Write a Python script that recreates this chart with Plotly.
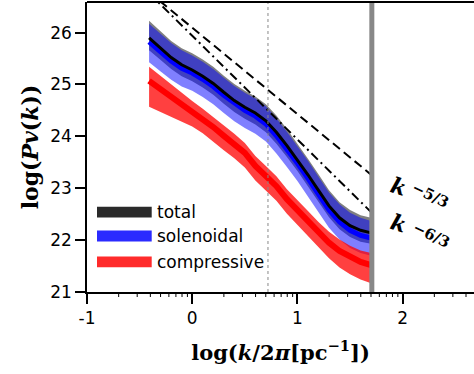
import numpy as np
import plotly.graph_objects as go

# ---------------- data ----------------
logk = [-0.41, -0.3, -0.2, -0.1, 0.0, 0.1, 0.2, 0.3, 0.4, 0.5, 0.6, 0.7,
        0.8, 0.9, 1.0, 1.1, 1.2, 1.3, 1.4, 1.5, 1.6, 1.7]

total = [25.90, 25.70, 25.52, 25.38, 25.28, 25.16, 25.02, 24.85, 24.69, 24.56, 24.45, 24.30,
         24.08, 23.82, 23.55, 23.26, 22.96, 22.66, 22.43, 22.28, 22.19, 22.14]
total_hi = [26.23, 26.02, 25.84, 25.70, 25.60, 25.48, 25.34, 25.17, 25.01, 24.88, 24.77, 24.62,
            24.40, 24.14, 23.86, 23.57, 23.27, 22.96, 22.73, 22.58, 22.48, 22.43]
total_lo = [25.66, 25.47, 25.30, 25.16, 25.06, 24.94, 24.80, 24.63, 24.47, 24.34, 24.23, 24.08,
            23.86, 23.60, 23.33, 23.04, 22.74, 22.44, 22.21, 22.06, 21.97, 21.93]

solenoidal = [25.82, 25.62, 25.45, 25.31, 25.22, 25.10, 24.96, 24.79, 24.63, 24.50, 24.39, 24.24,
              24.01, 23.75, 23.48, 23.19, 22.88, 22.58, 22.35, 22.19, 22.09, 22.04]
solenoidal_hi = [26.17, 25.97, 25.80, 25.66, 25.56, 25.44, 25.30, 25.13, 24.97, 24.84, 24.73, 24.58,
                 24.35, 24.09, 23.82, 23.53, 23.22, 22.92, 22.69, 22.53, 22.43, 22.37]
solenoidal_lo = [25.43, 25.25, 25.09, 24.96, 24.88, 24.76, 24.62, 24.45, 24.29, 24.16, 24.05, 23.90,
                 23.67, 23.41, 23.14, 22.85, 22.54, 22.24, 22.01, 21.85, 21.75, 21.70]

compressive = [25.07, 24.91, 24.77, 24.63, 24.48, 24.34, 24.18, 24.01, 23.86, 23.68, 23.43, 23.24,
               23.04, 22.79, 22.57, 22.37, 22.15, 21.95, 21.79, 21.67, 21.58, 21.52]
compressive_hi = [25.34, 25.16, 25.00, 24.85, 24.68, 24.53, 24.37, 24.20, 24.05, 23.87, 23.62, 23.43,
                  23.23, 22.98, 22.76, 22.56, 22.35, 22.16, 22.01, 21.89, 21.80, 21.75]
compressive_lo = [24.57, 24.47, 24.37, 24.28, 24.19, 24.06, 23.90, 23.73, 23.58, 23.40, 23.15, 22.96,
                  22.76, 22.51, 22.29, 22.08, 21.86, 21.65, 21.47, 21.34, 21.24, 21.17]

# reference power laws: log P = a + slope * log k
ref_x = [-0.41, 1.70]
ref53_anchor = (1.707, 23.25)   # k^-5/3 passes through this point
ref63_anchor = (1.70, 22.54)    # k^-6/3 passes through this point
ref_slopes = [-5.0 / 3.0, -6.0 / 3.0]
ref_labels = ["−5/3", "−6/3"]

dotted_x = 0.72
gray_x = 1.707

X_RANGE = [-1, 2.678]
Y_RANGE = [21, 26.59]
x_ticks = [-1, 0, 1, 2]
y_ticks = [21, 22, 23, 24, 25, 26]
minor_x = [d + np.log10(n) for d in [-1, 0, 1, 2] for n in range(2, 10)]
minor_x = [float(v) for v in minor_x if v < X_RANGE[1] - 0.01]

legend_names = ["total", "solenoidal", "compressive"]
legend_colors = ["#2a2a2a", "#2b2bff", "#ff2b2b"]

# ---------------- figure ----------------
fig = go.Figure()


def band(x, lo, hi, color):
    fig.add_trace(go.Scatter(x=x + x[::-1], y=hi + lo[::-1], fill="toself",
                             fillcolor=color, line=dict(width=0), mode="lines",
                             hoverinfo="skip", showlegend=False))


band(logk, total_lo, total_hi, "rgb(128,128,128)")
band(logk, solenoidal_lo, solenoidal_hi, "rgba(0,0,255,0.5)")
band(logk, compressive_lo, compressive_hi, "rgba(255,0,0,0.75)")

fig.add_trace(go.Scatter(x=logk, y=compressive, mode="lines",
                         line=dict(color="#ff0000", width=6), showlegend=False))
fig.add_trace(go.Scatter(x=logk, y=solenoidal, mode="lines",
                         line=dict(color="#0000ff", width=5), showlegend=False))
fig.add_trace(go.Scatter(x=logk, y=total, mode="lines",
                         line=dict(color="#000000", width=3), showlegend=False))

for (ax, ay), s, dash in zip([ref53_anchor, ref63_anchor], ref_slopes,
                             ["9px,5px", "9px,4px,2px,4px"]):
    ys = [ay + s * (xx - ax) for xx in ref_x]
    fig.add_trace(go.Scatter(x=ref_x, y=ys, mode="lines",
                             line=dict(color="black", width=2, dash=dash), showlegend=False))

# vertical markers
fig.add_shape(type="line", xref="x", yref="paper", x0=dotted_x, x1=dotted_x, y0=0, y1=1,
              line=dict(color="#888888", width=1, dash="dot"))
fig.add_shape(type="line", xref="x", yref="paper", x0=gray_x, x1=gray_x, y0=0, y1=1,
              line=dict(color="#888888", width=5))

# minor (logarithmic) ticks on the x axis, pointing outward
PW = 474 - 87
PH = 374 - 2 - 82
for v in minor_x:
    fig.add_shape(type="line", xref="x", yref="paper", x0=v, x1=v, y0=0, y1=-5.0 / PH,
                  line=dict(color="black", width=1))

# slope labels (k and exponent, tilted)
for lab, (kx, ky), (sx, sy) in zip(ref_labels,
                                   [(1.958, 23.04), (1.958, 22.33)],
                                   [(2.262, 22.87), (2.272, 22.10)]):
    fig.add_annotation(x=kx, y=ky, xref="x", yref="y", showarrow=False, textangle=18,
                       text="<b><i>k</i></b>",
                       font=dict(family="DejaVu Serif", size=22, color="black"))
    fig.add_annotation(x=sx, y=sy, xref="x", yref="y", showarrow=False, textangle=26,
                       text="<b>" + lab + "</b>",
                       font=dict(family="DejaVu Serif", size=15, color="black"))

# custom legend
leg_y = [22.54, 22.08, 21.58]
for name, col, yy in zip(legend_names, legend_colors, leg_y):
    fig.add_shape(type="rect", xref="x", yref="y", x0=-0.905, x1=-0.385,
                  y0=yy - 0.105, y1=yy + 0.105, fillcolor=col, line=dict(width=0))
    fig.add_annotation(x=-0.35, y=yy, xref="x", yref="y", showarrow=False,
                       xanchor="left", yanchor="middle", text=name,
                       font=dict(family="DejaVu Sans", size=17, color="black"))

# top frame line
fig.add_shape(type="line", xref="paper", yref="paper", x0=0, x1=1.01, y0=1, y1=1,
              line=dict(color="black", width=2))

# the axes continue past the page edge: keep the right edge of the frame open
fig.add_annotation(x=1, y=0.5, xref="paper", yref="paper", xanchor="right", yanchor="middle",
                   showarrow=False, text=" ", width=8, height=PH - 6,
                   bgcolor="white", borderwidth=0, borderpad=0,
                   font=dict(size=1, color="white"))

fig.update_layout(
    width=474, height=374,
    margin=dict(l=87, r=0, t=2, b=82),
    plot_bgcolor="white", paper_bgcolor="white",
    showlegend=False,
    xaxis=dict(range=X_RANGE, tickvals=x_ticks, ticktext=["-1", "0", "1", "2"],
               ticks="outside", ticklen=10, tickwidth=1.5, tickcolor="black",
               showline=True, linecolor="black", linewidth=1.5, mirror=False,
               showgrid=False, zeroline=False,
               tickfont=dict(family="DejaVu Sans", size=17, color="black"),
               title=dict(text="<b>log(<i>k</i>/2<i>π</i>[pc<sup>−1</sup>])</b>",
                          font=dict(family="DejaVu Serif", size=21, color="black"),
                          standoff=18)),
    yaxis=dict(range=Y_RANGE, tickvals=y_ticks,
               ticks="outside", ticklen=10, tickwidth=1.5, tickcolor="black",
               showline=True, linecolor="black", linewidth=1.5, mirror=False,
               showgrid=False, zeroline=False,
               tickfont=dict(family="DejaVu Sans", size=17, color="black"),
               title=dict(text="<b>log(<i>Pv</i>(<i>k</i>))</b>",
                          font=dict(family="DejaVu Serif", size=22, color="black"),
                          standoff=6)),
)

fig.write_html("out.html")
